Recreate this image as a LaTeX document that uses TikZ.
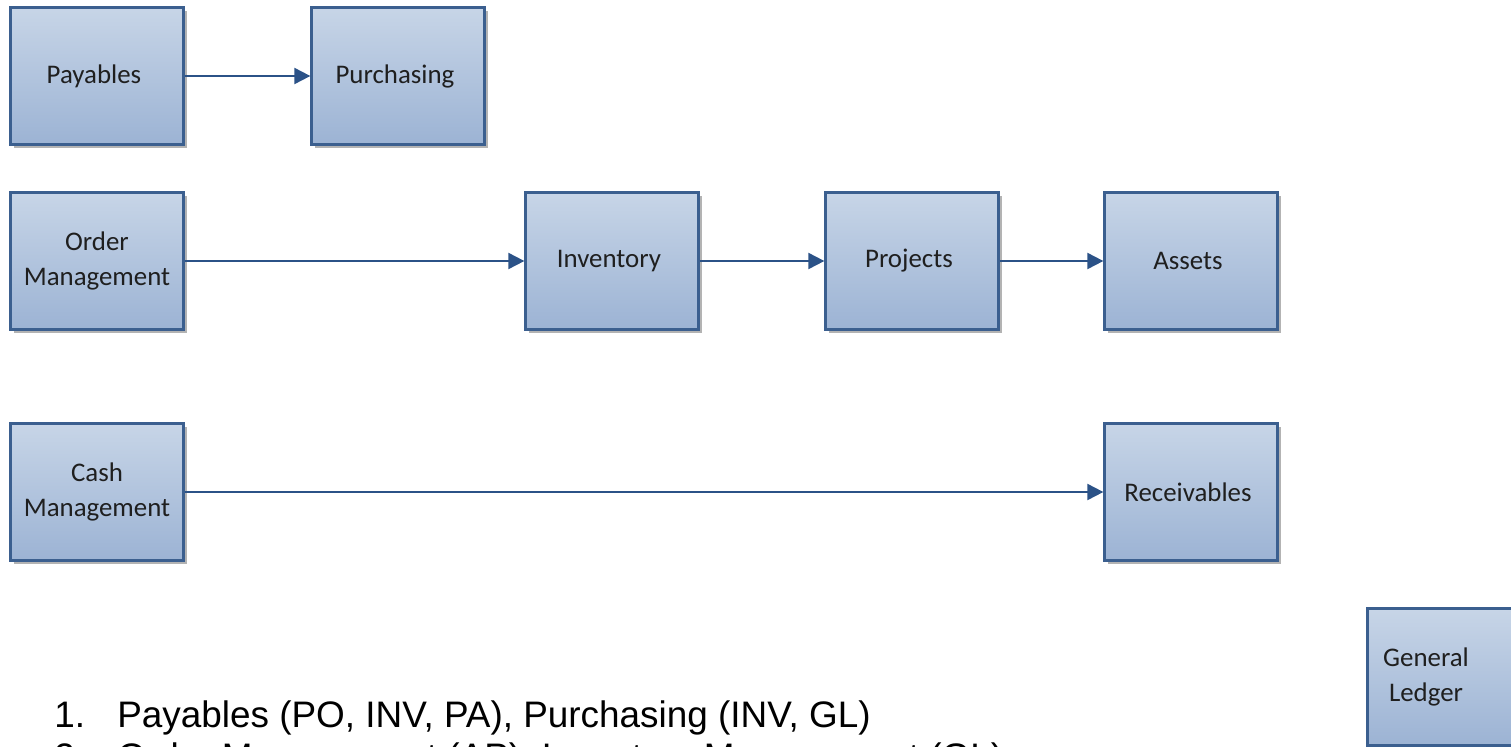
\documentclass[tikz,border=0pt]{standalone}
\usepackage{fontspec}
\usepackage{tikz}
\usetikzlibrary{arrows.meta,shadows}

\newfontfamily\boxfont{Carlito}
\newfontfamily\listfont{Liberation Sans}

\definecolor{boxtop}{HTML}{C7D5E7}
\definecolor{boxbot}{HTML}{9CB3D4}
\definecolor{boxline}{HTML}{3B5F8F}
\definecolor{flowline}{HTML}{2B5287}
\definecolor{boxtext}{HTML}{1F1F1F}

\tikzset{
  modbox/.style={draw=boxline, line width=1.3pt, top color=boxtop, bottom color=boxbot,
    minimum width=3.46cm, minimum height=2.74cm, inner sep=0pt, align=center,
    font=\boxfont\fontsize{15.3}{19.5}\selectfont, text=boxtext,
    drop shadow={shadow xshift=2pt, shadow yshift=-2pt, fill=black!50, opacity=0.6}},
  modtext/.style={inner sep=0pt, align=center, font=\boxfont\fontsize{15.3}{19.5}\selectfont, text=boxtext},
  flow/.style={draw=flowline, line width=1.1pt, -{Triangle[length=0.32cm, width=0.32cm]}},
  listline/.style={anchor=base west, inner sep=0pt, font=\listfont\fontsize{21}{25}\selectfont}
}

\begin{document}
\begin{tikzpicture}[x=0.02cm, y=-0.02cm]
  \useasboundingbox (0,0) rectangle (1511,747);

  % first row
  \node [modbox] (pay) at (97,76) { Payables };
  \node [modbox] (pur) at (398,76) { Purchasing };

  % second row
  \node [modbox] (om) at (97,261) { Order\\Management };
  \node [modbox] (inv) at (612,261) { Inventory };
  \node [modbox] (proj) at (912,261) { Projects };
  \node [modbox] (ast) at (1191,261) { Assets };

  % third row
  \node [modbox] (cash) at (97,492) { Cash\\Management };
  \node [modbox] (rec) at (1191,492) { Receivables };

  % general ledger, cut by the page edge
  \node [modbox] (gl) at (1454,677) {};
  \node [modtext] (gltext) at (1426,677) { General\\Ledger };

  \draw [flow] (pay) -- (pur);
  \draw [flow] (om) -- (inv);
  \draw [flow] (inv) -- (proj);
  \draw [flow] (proj) -- (ast);
  \draw [flow] (cash) -- (rec);

  \node [listline] (item1) at (54,727) { \makebox[1.26cm][l]{1.}Payables (PO, INV, PA), Purchasing (INV, GL) };
  \node [listline] (item2) at (54,769) { \makebox[1.26cm][l]{2.}Order Management (AP), Inventory Management (GL) };
\end{tikzpicture}
\end{document}
